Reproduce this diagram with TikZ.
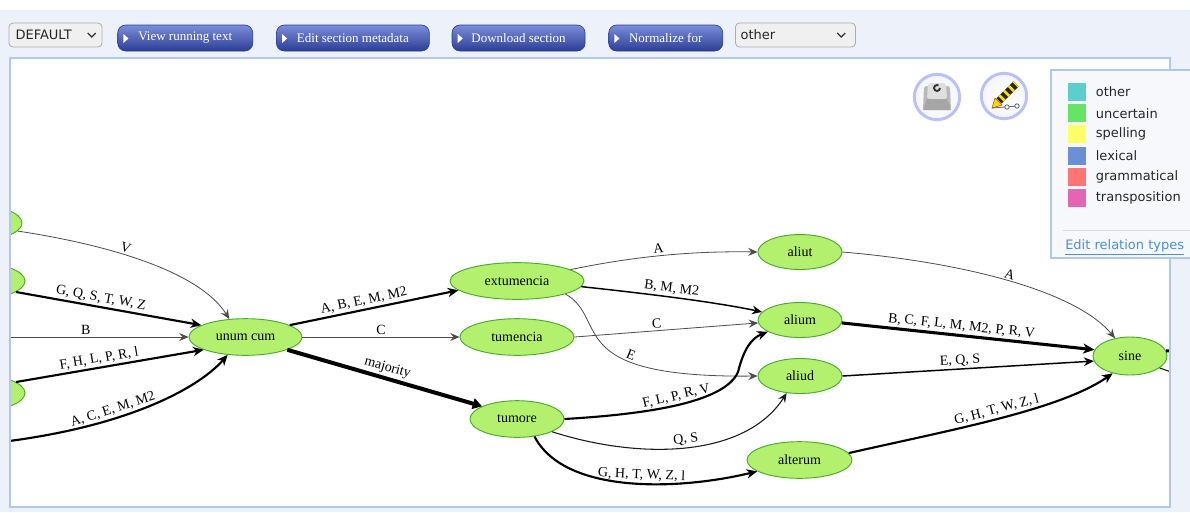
\documentclass[tikz,border=0pt]{standalone}
\usepackage{fontspec}
\setmainfont{Liberation Serif}
\newfontfamily\uifont{DejaVu Sans}
\usetikzlibrary{positioning,shapes.geometric,arrows.meta}

\definecolor{uibg}{RGB}{236,241,250}
\definecolor{panelline}{RGB}{178,198,242}
\definecolor{nodefill}{RGB}{178,240,110}
\definecolor{nodeline}{RGB}{72,172,42}
\definecolor{btntop}{RGB}{122,142,218}
\definecolor{btnbot}{RGB}{44,62,148}
\definecolor{legendbg}{RGB}{246,248,252}
\definecolor{linkblue}{RGB}{74,144,217}
\definecolor{ringblue}{RGB}{186,192,250}
\definecolor{lgother}{RGB}{92,206,206}
\definecolor{lguncertain}{RGB}{102,228,102}
\definecolor{lgspelling}{RGB}{255,255,102}
\definecolor{lglexical}{RGB}{108,144,214}
\definecolor{lggrammatical}{RGB}{255,116,116}
\definecolor{lgtransposition}{RGB}{226,102,180}

\begin{document}
\begin{tikzpicture}[
  x=0.75pt, y=-0.75pt,
  reading/.style={ellipse, draw=nodeline, fill=nodefill, line width=0.7pt, inner sep=0pt,
    minimum height=27.5pt, font=\fontsize{10.5}{12}\selectfont},
  elab/.style={font=\fontsize{10.5}{12}\selectfont, inner sep=1.5pt, sloped, above},
  e1/.style={draw=black!70, line width=0.6pt, -{Stealth[length=7pt,width=6pt,inset=2.5pt]}},
  e2/.style={draw=black!90, line width=0.8pt, -{Stealth[length=7pt,width=6pt,inset=2.5pt]}},
  e3/.style={draw=black, line width=1.1pt, -{Stealth[length=7.5pt,width=6.5pt,inset=2.5pt]}},
  e5/.style={draw=black, line width=1.6pt, -{Stealth[length=8pt,width=7pt,inset=2.5pt]}},
  e9/.style={draw=black, line width=2.3pt, -{Stealth[length=8.5pt,width=7.5pt,inset=2.5pt]}},
  emaj/.style={draw=black, line width=3pt, -{Triangle[length=7pt,width=8pt]}},
  btn/.style={rounded corners=6pt, top color=btntop, bottom color=btnbot, draw=btnbot,
    line width=0.5pt, minimum height=19.5pt, text=white, font=\fontsize{9.75}{11}\selectfont},
  dropbox/.style={rounded corners=3pt, fill=gray!12, draw=gray!65, line width=0.6pt,
    minimum height=18pt},
  uitext/.style={font=\uifont\fontsize{9.75}{11}\selectfont, text=black!85, inner sep=0pt},
  chev/.style={draw=black!80, line width=0.9pt},
  iconring/.style={circle, draw=ringblue, line width=2.2pt, inner color=white,
    outer color=blue!4, minimum size=34pt, inner sep=0pt},
  swatch/.style={minimum size=13.5pt, inner sep=0pt}
]
\useasboundingbox (0,0) rectangle (1190,512);
\fill[white] (0,0) rectangle (1190,10);
\fill[uibg] (0,10) rectangle (1190,512);

% toolbar
\node[dropbox, minimum width=69.75pt] (defsel) at (55.5,35) {};
\node[uitext, anchor=west] (deftext) at ([xshift=5pt]defsel.west) {DEFAULT};
\draw[chev] ([xshift=-11pt,yshift=1.5pt]defsel.east) -- ++(4,4) -- ++(4,-4);

\node[btn, minimum width=101.25pt, right=11.25pt of defsel, yshift=-2.25pt] (viewtext) {View running text};
\node[btn, minimum width=114.75pt, right=17.25pt of viewtext] (editmeta) {Edit section metadata};
\node[btn, minimum width=99.75pt, right=16.5pt of editmeta] (download) {Download section};
\node[btn, minimum width=85.5pt, right=17.25pt of download] (normalize) {Normalize for};
\foreach \b in {viewtext,editmeta,download,normalize}
  \fill[white] ([xshift=4.5pt,yshift=3pt]\b.west) -- ++(0,9) -- ++(5,-4.5) -- cycle;

\node[dropbox, minimum width=90pt, right=9pt of normalize, yshift=2.25pt] (normsel) {};
\node[uitext, anchor=west] (normtext) at ([xshift=4pt]normsel.west) {other};
\draw[chev] ([xshift=-14pt,yshift=1.5pt]normsel.east) -- ++(4,4) -- ++(4,-4);

% graph panel
\fill[white] (10,58) rectangle (1170,507);
\begin{scope}
\clip (10,58) rectangle (1170,507);

\node[reading, minimum width=75pt] (lefta) at (-28,223) {};
\node[reading, minimum width=75pt] (leftb) at (-25,281) {};
\node[reading, minimum width=75pt] (leftc) at (-25,393) {};
\coordinate (offB) at (-40,337);
\coordinate (offA) at (-40,446);

\node[reading, minimum width=84.75pt] (unum) at (245.5,337) {unum cum};
\node[reading, minimum width=100.5pt] (extum) at (517,281) {extumencia};
\node[reading, minimum width=85.5pt] (tumen) at (517,337) {tumencia};
\node[reading, minimum width=70.5pt] (tumore) at (517,419) {tumore};
\node[reading, minimum width=63pt, minimum height=26.25pt] (aliut) at (800,252) {aliut};
\node[reading, minimum width=63pt, minimum height=26.25pt] (alium) at (800,320) {alium};
\node[reading, minimum width=63pt, minimum height=26.25pt] (aliud) at (800,376) {aliud};
\node[reading, minimum width=78.75pt] (alterum) at (799.5,460) {alterum};
\node[reading, minimum width=55.5pt, minimum height=28.5pt] (sine) at (1130,356) {sine};
\coordinate (offS1) at (1200,351);
\coordinate (offS2) at (1200,382);

% into unum cum
\draw[e1] (lefta.-10) .. controls (110,245) and (200,272) .. node[elab, pos=0.4] {V} (unum.132);
\draw[e5] (leftb.-15) -- node[elab, pos=0.45] {G, Q, S, T, W, Z} (unum.165);
\draw[e1] (offB) -- node[elab, pos=0.55] {B} (unum.west);
\draw[e5] (leftc.15) -- node[elab, pos=0.45] {F, H, L, P, R, l} (unum.197);
\draw[e5] (offA) .. controls (110,435) and (195,392) .. node[elab, pos=0.42] {A, C, E, M, M2} (unum.225);

% out of unum cum
\draw[e5] (unum.15) -- node[elab, pos=0.45] {A, B, E, M, M2} (extum.189);
\draw[e1] (unum.east) -- node[elab] {C} (tumen.west);
\draw[emaj] (unum.-17) -- node[elab, pos=0.5] {majority} (tumore.160);

% middle readings
\draw[e1] (extum.12) .. controls (640,255) and (700,251) .. node[elab, pos=0.45] {A} (aliut.west);
\draw[e3] (extum.-5) .. controls (650,294) and (715,302) .. node[elab, pos=0.45] {B, M, M2} (alium.168);
\draw[e1] (extum.-15) .. controls (610,320) and (560,378) .. node[elab, pos=0.66] {E} (aliud.west);
\draw[e1] (tumen.east) -- node[elab, pos=0.45] {C} (alium.184);
\draw[e5] (tumore.east) .. controls (650,414) and (725,402) .. node[elab, pos=0.5] {F, L, P, R, V} (738,372)
  .. controls (744,348) and (752,338) .. (alium.200);
\draw[e2] (tumore.-20) .. controls (640,460) and (745,458) .. node[elab, pos=0.5] {Q, S} (aliud.232);
\draw[e5] (tumore.-45) .. controls (565,495) and (680,490) .. node[elab, pos=0.55] {G, H, T, W, Z, l} (alterum.195);

% into sine
\draw[e1] (aliut.east) .. controls (960,262) and (1075,290) .. node[elab, pos=0.5] {A} (sine.130);
\draw[e9] (alium.-4) -- node[elab, pos=0.47] {B, C, F, L, M, M2, P, R, V} (sine.170);
\draw[e3] (aliud.east) -- node[elab, pos=0.47] {E, Q, S} (sine.188);
\draw[e5] (alterum.8) .. controls (950,430) and (1060,410) .. node[elab, pos=0.5] {G, H, T, W, Z, l} (sine.225);
\draw[e9, -] (sine.8) -- (offS1);
\draw[e2, -] (sine.-22) -- (offS2);
\end{scope}
\draw[panelline, line width=1.5pt] (10,58) rectangle (1170,507);

% icons
\node[iconring] (reload) at (937,97) {};
\begin{scope}[shift={(reload.center)}]
  \fill[gray!55, rounded corners=2pt] (-13,-11) -- (13,-11) -- (14,13) -- (-14,13) -- cycle;
  \fill[gray!25, rounded corners=2pt] (-9,-14) -- (9,-14) -- (10,2) -- (-10,2) -- cycle;
  \fill[gray!70] (-10,2) -- (10,2) -- (14,13) -- (-14,13) -- cycle;
  \draw[black!80, line width=1.4pt] (3,-9) arc (0:300:3);
\end{scope}
\node[iconring] (pencil) at (1004,96) {};
\begin{scope}[shift={(pencil.center)}]
  \draw[black!85, line width=5.5pt] (-5,5) -- (12,-12);
  \draw[yellow!85!orange, line width=5.5pt, dash pattern=on 2pt off 3pt] (-3,3) -- (12,-12);
  \fill[yellow!75!orange, draw=orange!70!black, line width=0.4pt] (-9,2) -- (-2,9) -- (-12,12) -- cycle;
  \draw[black!60, line width=0.6pt] (-12,12) -- (14,10);
  \draw[black!60, fill=white, line width=0.6pt] (3,11) circle (2.2) (13,10) circle (2.2);
\end{scope}

% legend
\draw[panelline, fill=legendbg, line width=1.2pt] (1051,70) rectangle (1200,258);
\foreach \lname/\lcol [count=\i] in {other/lgother, uncertain/lguncertain, spelling/lgspelling,
    lexical/lglexical, grammatical/lggrammatical, transposition/lgtransposition}
{
  \node[swatch, fill=\lcol] (sw\i) at (1077,{92+21.2*(\i-1)}) {};
  \node[uitext, anchor=west] (lg\i) at ([xshift=7pt]sw\i.east) {\lname};
}
\draw[gray!30, line width=0.6pt] (1063,230) -- (1190,230);
\node[uitext, text=linkblue, anchor=west] (reltypes) at (1065,247) {\underline{Edit relation types}};
\end{tikzpicture}
\end{document}
